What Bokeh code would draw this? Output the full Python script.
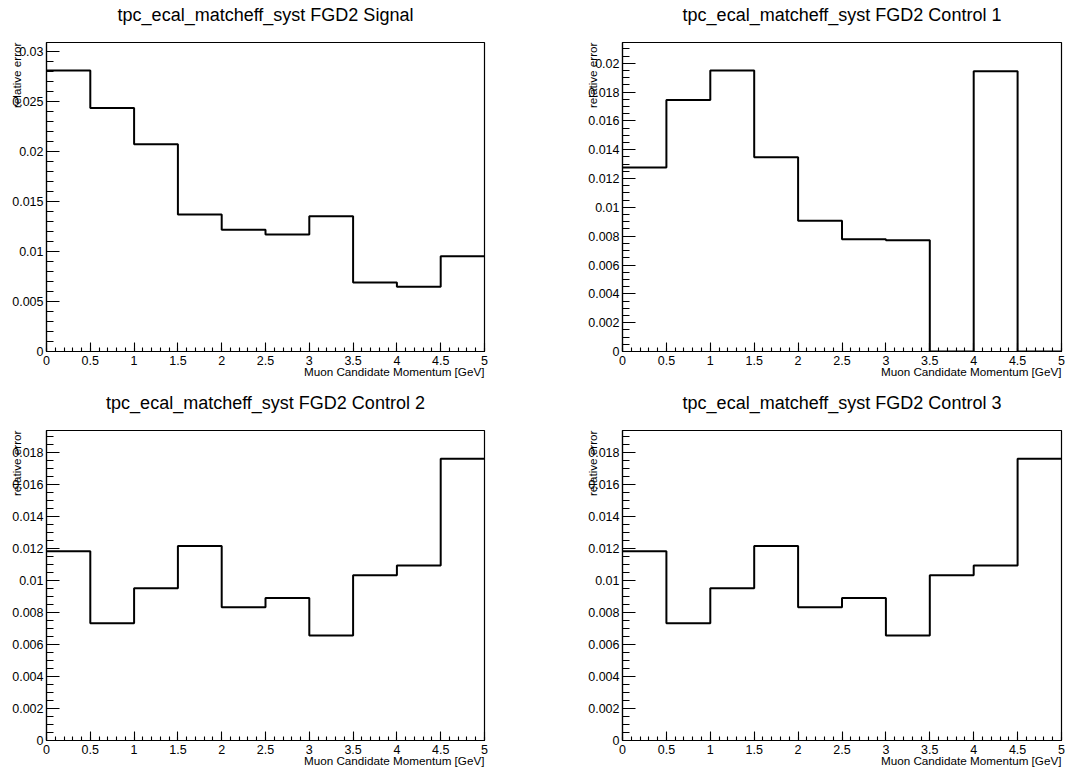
import numpy as np
from bokeh.plotting import figure
from bokeh.models import FixedTicker, Range1d, Title
from bokeh.layouts import column, row
from bokeh.embed import file_html
from bokeh.resources import INLINE

# ---------------- data ----------------
bin_edges = [0.0, 0.5, 1.0, 1.5, 2.0, 2.5, 3.0, 3.5, 4.0, 4.5, 5.0]

signal = [0.02813, 0.02439, 0.02076, 0.01371, 0.01218, 0.01171, 0.01355, 0.00691, 0.00648, 0.00955]
control1 = [0.01276, 0.01745, 0.01949, 0.01348, 0.00908, 0.00779, 0.00772, 0.0, 0.01944, 0.0]
control2 = [0.01182, 0.00732, 0.00951, 0.01214, 0.00832, 0.00890, 0.00655, 0.01032, 0.01093, 0.01760]
control3 = [0.01182, 0.00732, 0.00951, 0.01214, 0.00832, 0.00890, 0.00655, 0.01032, 0.01093, 0.01760]

titles = [
    "tpc_ecal_matcheff_syst FGD2 Signal",
    "tpc_ecal_matcheff_syst FGD2 Control 1",
    "tpc_ecal_matcheff_syst FGD2 Control 2",
    "tpc_ecal_matcheff_syst FGD2 Control 3",
]
x_title = "Muon Candidate Momentum [GeV]"
y_title = "relative error"

x_ticks = [0.0, 0.5, 1.0, 1.5, 2.0, 2.5, 3.0, 3.5, 4.0, 4.5, 5.0]
x_tick_labels = ["0", "0.5", "1", "1.5", "2", "2.5", "3", "3.5", "4", "4.5", "5"]

y_ticks_signal = [0.0, 0.005, 0.01, 0.015, 0.02, 0.025, 0.03]
y_tick_labels_signal = ["0", "0.005", "0.01", "0.015", "0.02", "0.025", "0.03"]

y_ticks_control = [0.0, 0.002, 0.004, 0.006, 0.008, 0.01, 0.012, 0.014, 0.016, 0.018, 0.02]
y_tick_labels_control = ["0", "0.002", "0.004", "0.006", "0.008", "0.01", "0.012",
                         "0.014", "0.016", "0.018", "0.02"]

FONT = "Liberation Sans"


def make_panel(title, values, yticks, ylabels, yminor_step, width, height,
               left, right, top, bottom):
    ymax = 1.1 * max(values)
    p = figure(width=width, height=height, output_backend="svg",
               toolbar_location=None, tools="", title=None,
               x_range=Range1d(0, 5), y_range=Range1d(0, ymax),
               min_border_left=left, min_border_right=right,
               min_border_top=top, min_border_bottom=bottom)
    p.background_fill_color = "white"
    p.border_fill_color = "white"
    p.xgrid.visible = False
    p.ygrid.visible = False
    p.outline_line_color = "black"
    p.outline_line_width = 1.2
    p.outline_line_alpha = 1.0

    # spacer between frame and title, then the title itself
    p.add_layout(Title(text=" ", text_font_size="2px", standoff=14), "above")
    p.add_layout(Title(text=title, align="center", text_font=FONT,
                       text_font_size="18px", text_font_style="normal",
                       text_color="black", standoff=0), "above")

    # x axis
    xminor = list(np.round(np.arange(0, 5.0001, 0.1), 4))
    p.xaxis.ticker = FixedTicker(ticks=x_ticks, minor_ticks=xminor)
    p.xaxis.major_label_overrides = dict(zip(x_ticks, x_tick_labels))
    # y axis
    yminor = list(np.round(np.arange(0, ymax, yminor_step), 6))
    p.yaxis.ticker = FixedTicker(ticks=yticks, minor_ticks=yminor)
    p.yaxis.major_label_overrides = dict(zip(yticks, ylabels))

    for ax in (p.xaxis[0], p.yaxis[0]):
        ax.axis_line_color = "black"
        ax.axis_line_width = 1.2
        ax.major_tick_line_color = "black"
        ax.minor_tick_line_color = "black"
        ax.major_tick_line_width = 1.1
        ax.minor_tick_line_width = 1.1
        ax.major_tick_out = 0
        ax.minor_tick_out = 0
        ax.major_label_text_font = FONT
        ax.major_label_text_font_size = "12.5px"
        ax.major_label_text_color = "black"
    p.xaxis.major_tick_in = 9
    p.xaxis.minor_tick_in = 4
    p.yaxis.major_tick_in = 13
    p.yaxis.minor_tick_in = 7
    p.xaxis.major_label_standoff = 4
    p.yaxis.major_label_standoff = 3

    # histogram outline
    ys = list(values) + [values[-1]]
    p.step(x=bin_edges, y=ys, mode="after", line_color="black", line_width=2)

    # axis titles, ROOT style (x right-aligned, y top-aligned)
    p.add_layout(Title(text=x_title, align="right", text_font=FONT,
                       text_font_size="11.7px", text_font_style="normal",
                       text_color="black", standoff=-9), "below")
    p.add_layout(Title(text=y_title, align="right", text_font=FONT,
                       text_font_size="11.7px", text_font_style="normal",
                       text_color="black", standoff=-26), "left")
    return p


p1 = make_panel(titles[0], signal, y_ticks_signal, y_tick_labels_signal, 0.001,
                545, 386, 46, 61, 42, 35)
p2 = make_panel(titles[1], control1, y_ticks_control, y_tick_labels_control, 0.0005,
                544, 386, 77, 28, 42, 35)
p3 = make_panel(titles[2], control2, y_ticks_control, y_tick_labels_control, 0.0005,
                545, 387, 46, 61, 44, 33)
p4 = make_panel(titles[3], control3, y_ticks_control, y_tick_labels_control, 0.0005,
                544, 387, 77, 28, 44, 33)

layout = column(row(p1, p2), row(p3, p4))
open("out.html", "w").write(file_html(layout, INLINE))
